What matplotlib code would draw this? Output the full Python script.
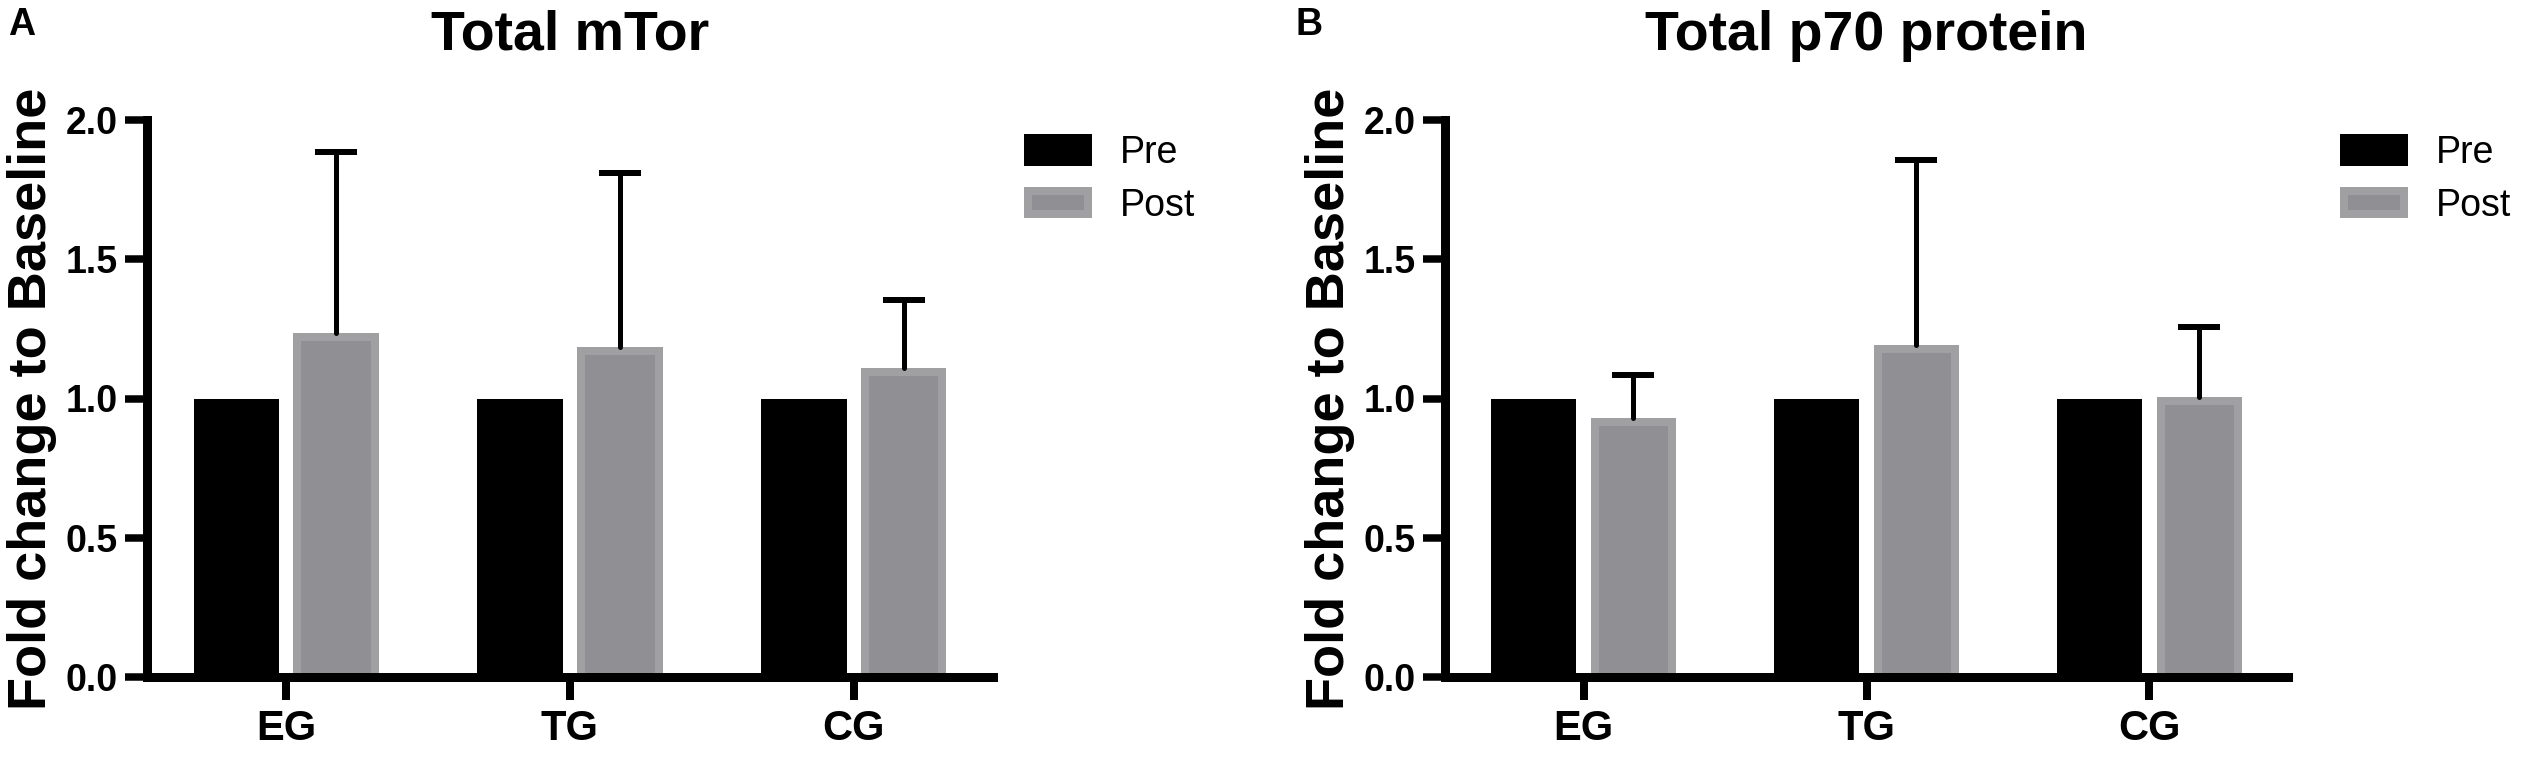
import numpy as np
import matplotlib
matplotlib.use("Agg")
import matplotlib.pyplot as plt
import matplotlib.patches as mpatches
from matplotlib.ticker import FormatStrFormatter

plt.rcParams['font.family'] = ['Liberation Sans', 'DejaVu Sans']

# ---------------- data ----------------
groups = ["EG", "TG", "CG"]
series = ["Pre", "Post"]
mtor_pre = [1.0, 1.0, 1.0]
mtor_post = [1.235, 1.184, 1.108]
mtor_post_err = [0.65, 0.626, 0.244]
p70_pre = [1.0, 1.0, 1.0]
p70_post = [0.93, 1.193, 1.004]
p70_post_err = [0.154, 0.662, 0.251]
titles = ["Total mTor", "Total p70 protein"]
panel_letters = ["A", "B"]
ylabel = "Fold change to Baseline"
yticks = [0.0, 0.5, 1.0, 1.5, 2.0]

# ---------------- style ----------------
W, H = 2526, 757
DPI = 100
PT = 72.0 / DPI  # points per pixel
PRE_COLOR = "#000000"
POST_EDGE = "#a0a0a3"
POST_FILL = "#8f8f94"

fig = plt.figure(figsize=(W / DPI, H / DPI), dpi=DPI)
fig.patch.set_facecolor("white")

panels = [
    dict(left=147, width=846, pre=mtor_pre, post=mtor_post, err=mtor_post_err,
         letter_x=8, legend_x=1024),
    dict(left=1445, width=843, pre=p70_pre, post=p70_post, err=p70_post_err,
         letter_x=1295, legend_x=2340),
]

ax_bottom = 677
ax_top = 120

for i, p in enumerate(panels):
    ax = fig.add_axes([p["left"] / W, (H - ax_bottom) / H,
                       p["width"] / W, (ax_bottom - ax_top) / H])
    x = np.arange(len(groups))
    bw = 0.30
    off = 0.176
    xlim = (-0.49, 2.49)
    ylim = (0.0, 2.0)
    ex = 8 * (xlim[1] - xlim[0]) / p["width"]
    ey = 8 * (ylim[1] - ylim[0]) / (ax_bottom - ax_top)

    ax.bar(x - off, p["pre"], width=bw, color=PRE_COLOR, zorder=2,
           joinstyle="round")
    ax.bar(x + off, p["post"], width=bw, color=POST_EDGE, zorder=2)
    ax.bar(x + off, np.array(p["post"]) - ey, width=bw - 2 * ex,
           color=POST_FILL, zorder=2.1)

    eb = ax.errorbar(x + off, p["post"], yerr=[np.zeros(3), p["err"]],
                     fmt="none", ecolor="black", elinewidth=5 * PT,
                     capsize=21.5 * PT, capthick=6 * PT, zorder=3)
    for cl in eb[1]:
        if np.allclose(cl.get_ydata(), p["post"]):
            cl.set_visible(False)
    for bl in eb[2]:
        bl.set_capstyle("round")

    ax.set_xlim(*xlim)
    ax.set_ylim(*ylim)
    ax.set_xticks(x)
    ax.set_xticklabels(groups)
    ax.set_yticks(yticks)
    ax.yaxis.set_major_formatter(FormatStrFormatter("%.1f"))

    for s in ["top", "right"]:
        ax.spines[s].set_visible(False)
    for s in ["left", "bottom"]:
        ax.spines[s].set_linewidth(9 * PT)
        ax.spines[s].set_zorder(4)

    ax.tick_params(axis="y", direction="out", length=22 * PT, width=7.5 * PT,
                   pad=7 * PT, labelsize=27)
    ax.tick_params(axis="x", direction="out", length=23 * PT, width=8 * PT,
                   pad=9 * PT, labelsize=30)
    for lab in ax.get_xticklabels() + ax.get_yticklabels():
        lab.set_fontweight("bold")

    # title
    cx = (p["left"] + p["width"] / 2) / W
    fig.text(cx, 1 - 50 / H, titles[i], ha="center", va="baseline",
             fontsize=40, fontweight="bold")
    # panel letter
    fig.text(p["letter_x"] / W, 1 - 35 / H, panel_letters[i], ha="left",
             va="baseline", fontsize=27, fontweight="bold")
    # y label
    fig.text((p["left"] - 140) / W, 1 - ((ax_top + ax_bottom) / 2) / H, ylabel,
             rotation=90, ha="left", va="center", fontsize=39,
             fontweight="bold")

    # legend
    h_pre = mpatches.Patch(facecolor=PRE_COLOR, edgecolor=PRE_COLOR,
                           linewidth=8 * PT, label=series[0])
    h_post = mpatches.Patch(facecolor=POST_FILL, edgecolor=POST_EDGE,
                            linewidth=8 * PT, label=series[1])
    fs = 27
    fpx = fs / PT
    leg = ax.legend(handles=[h_pre, h_post], loc="upper left",
                    bbox_to_anchor=((p["legend_x"] + 4) / W, 1 - 135 / H),
                    bbox_transform=fig.transFigure, frameon=False,
                    fontsize=fs, borderpad=0, borderaxespad=0,
                    handlelength=60 / fpx, handleheight=22 / fpx,
                    handletextpad=0.85, labelspacing=0.45)
    leg.set_zorder(5)

fig.savefig("out.png", dpi=DPI, facecolor="white")
